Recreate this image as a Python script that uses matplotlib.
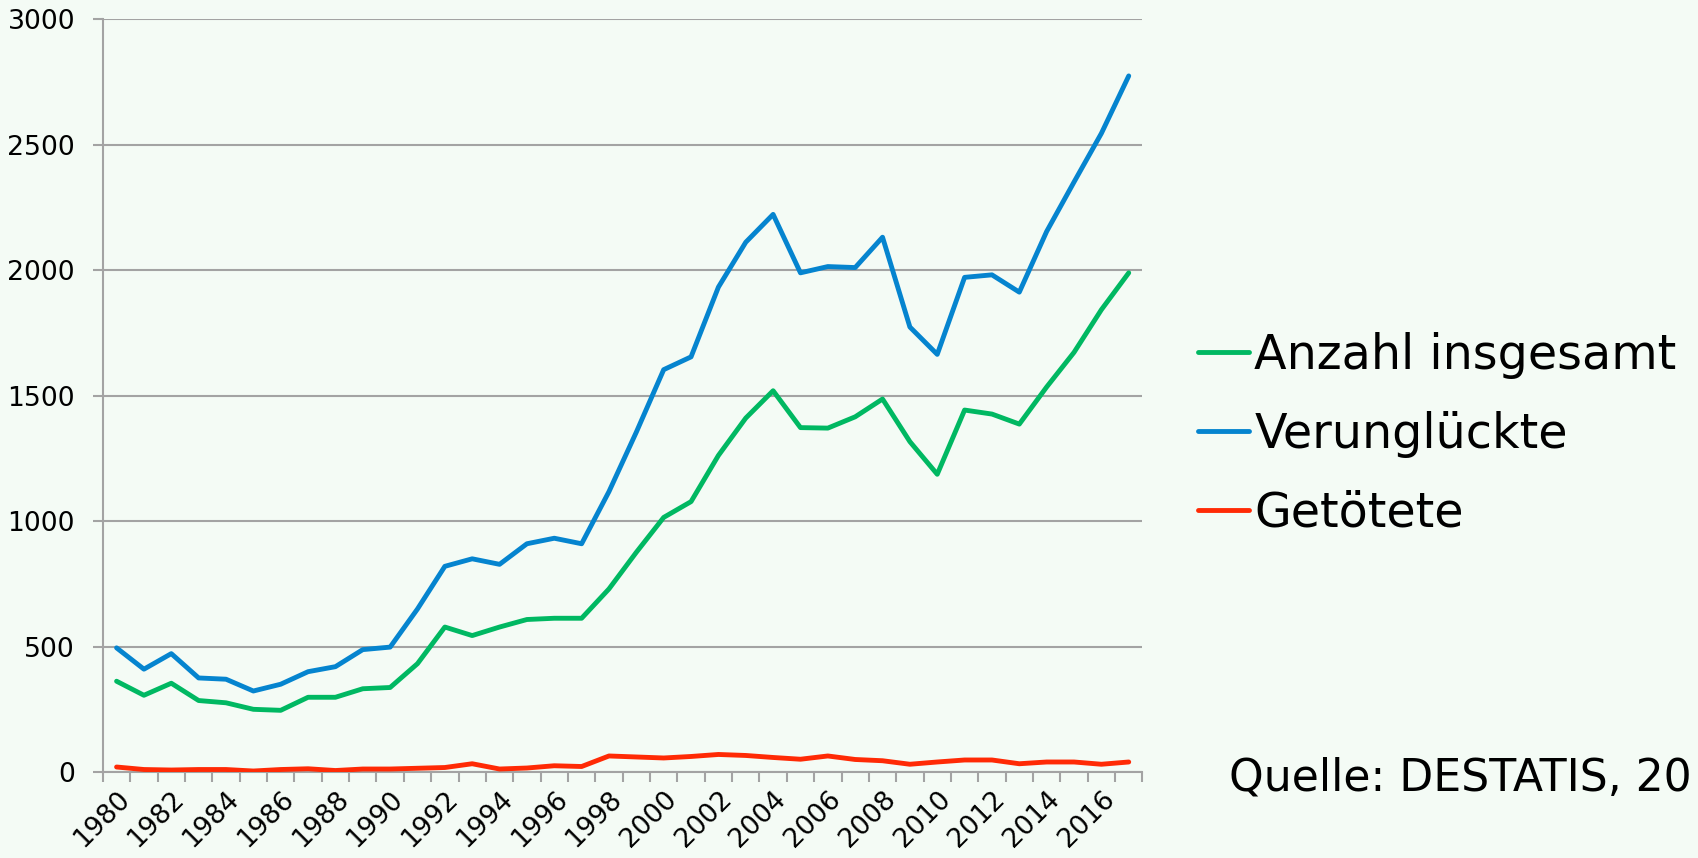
import numpy as np
import matplotlib.pyplot as plt
from matplotlib.ticker import FixedLocator

# Jahre 1980 bis 2017
years = list(range(1980, 2018))

anzahl_insgesamt = [362, 306, 354, 285, 276, 250, 246, 298, 298, 332,
                    337, 432, 578, 544, 578, 608, 613, 613, 730, 876,
                    1015, 1078, 1262, 1411, 1520, 1373, 1371, 1416, 1487, 1317,
                    1187, 1443, 1427, 1387, 1535, 1673, 1843, 1990]

verunglueckte = [495, 410, 472, 375, 370, 323, 350, 400, 420, 488,
                 498, 650, 820, 850, 828, 910, 932, 910, 1118, 1355,
                 1604, 1655, 1933, 2112, 2223, 1990, 2015, 2011, 2132, 1774,
                 1665, 1972, 1982, 1913, 2155, 2352, 2546, 2775]

getoetete = [20, 10, 8, 10, 10, 4, 10, 13, 6, 12,
             12, 15, 18, 33, 12, 16, 25, 22, 64, 60,
             56, 62, 70, 66, 58, 51, 64, 50, 45, 31,
             40, 48, 48, 33, 40, 40, 31, 40]

series_labels = ['Anzahl insgesamt', 'Verunglückte', 'Getötete']
y_ticks = [0, 500, 1000, 1500, 2000, 2500, 3000]

bg = '#f4fbf5'
grid_col = '#a3a3a3'

plt.rcParams['font.family'] = ['DejaVu Sans']

fig = plt.figure(figsize=(16.98, 8.58), dpi=100, facecolor=bg)
ax = fig.add_axes([0.0606, 0.1002, 0.6122, 0.8771])
ax.set_facecolor(bg)

x = np.arange(len(years))
style = dict(lw=3.5, solid_capstyle='round', solid_joinstyle='round', zorder=3)
ax.plot(x, anzahl_insgesamt, color='#00b862', label=series_labels[0], **style)
ax.plot(x, verunglueckte, color='#0584cf', label=series_labels[1], **style)
ax.plot(x, getoetete, color='#ff2a05', label=series_labels[2], **style)

ax.set_xlim(-0.5, len(years) - 0.5)
ax.set_ylim(0, 3000)
ax.set_yticks(y_ticks)
ax.yaxis.grid(True, color=grid_col, lw=1.5)
ax.set_axisbelow(True)

# Beschriftung jedes zweite Jahr, Striche zwischen den Kategorien
ax.set_xticks(x[::2])
ax.set_xticklabels([str(y) for y in years[::2]], rotation=45, ha='right',
                   rotation_mode='anchor')
ax.xaxis.set_minor_locator(FixedLocator(np.arange(-0.5, len(years), 1.0)))
ax.tick_params(axis='x', which='major', length=0, pad=10, labelsize=19.2)
ax.tick_params(axis='x', which='minor', length=7, width=1.5, color=grid_col)
ax.tick_params(axis='y', length=7, width=1.5, color=grid_col, pad=13,
               labelsize=19.2)

for side in ['top', 'right']:
    ax.spines[side].set_visible(False)
for side in ['left', 'bottom']:
    ax.spines[side].set_color(grid_col)
    ax.spines[side].set_linewidth(1.5)

fig.legend(loc='center left', bbox_to_anchor=(0.7055, 0.494), frameon=False,
           fontsize=34.3, handlelength=1.08, handletextpad=0.1,
           labelspacing=0.67, borderaxespad=0, borderpad=0)

fig.text(0.7238, 0.0792, 'Quelle: DESTATIS, 20', fontsize=31.8,
         ha='left', va='baseline')

fig.savefig('out.png', dpi=100, facecolor=bg)
